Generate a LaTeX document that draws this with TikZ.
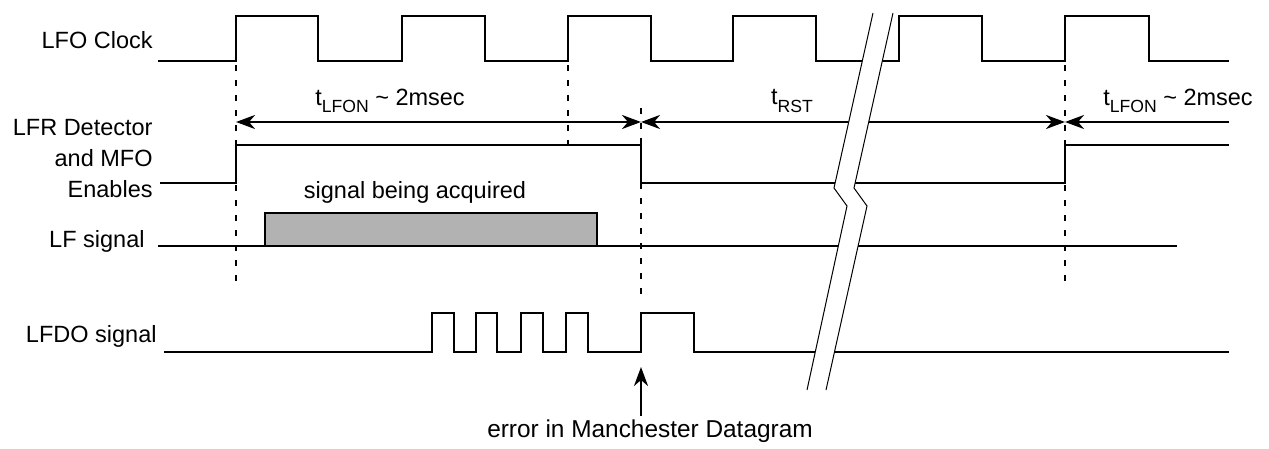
\documentclass[tikz,border=0pt]{standalone}
\usepackage{fontspec}
\setmainfont{Liberation Sans}
\usetikzlibrary{arrows.meta}
\begin{document}
\begin{tikzpicture}[x=0.5pt,y=-0.5pt,
  sig/.style={line width=1.4pt, line join=miter},
  guide/.style={line width=1.1pt, dash pattern=on 3pt off 4.5pt},
  dimline/.style={line width=1.2pt},
  hd/.tip={Stealth[length=9.5pt,width=7pt,inset=3pt]},
  brk/.style={line width=0.5pt},
  lbl/.style={font=\fontsize{11.75}{15.5}\selectfont, inner sep=0pt}
]
\useasboundingbox (0,0) rectangle (1269,449);
\newcommand{\subtxt}[1]{\raisebox{-0.6ex}{\fontsize{8.8}{10}\selectfont #1}}

% labels
\node[lbl, anchor=east] (lfo) at (153,40) {LFO Clock};
\node[lbl, anchor=east, align=right] (lfr) at (153,159) {LFR Detector\\and MFO\\Enables};
\node[lbl, anchor=east] (lfs) at (145,241) {LF signal};
\node[lbl, anchor=east] (lfdo) at (157,336) {LFDO signal};

% LFO clock
\draw[sig] (158,61) -- (236,61) -- (236,16) -- (318,16) -- (318,61) -- (402,61) -- (402,16) -- (485,16) -- (485,61) -- (568,61) -- (568,16) -- (651,16) -- (651,61) -- (733,61) -- (733,16) -- (816,16) -- (816,61) -- (899,61) -- (899,16) -- (982,16) -- (982,61) -- (1065,61) -- (1065,16) -- (1149,16) -- (1149,61) -- (1229,61);

% LFR / MFO enables
\draw[sig] (160,183) -- (236,183) -- (236,145) -- (641,145) -- (641,183) -- (1065,183) -- (1065,145) -- (1229,145);

% LF signal
\draw[sig] (158,246) -- (1177,246);
\draw[sig, fill=black!30] (265,213) rectangle (597,246);
\node[lbl] (acq) at (415,192) {signal being acquired};

% LFDO signal
\draw[sig] (164,352) -- (432,352) -- (432,313) -- (454,313) -- (454,352) -- (476,352) -- (476,313) -- (497,313) -- (497,352) -- (521,352) -- (521,313) -- (543,313) -- (543,352) -- (566,352) -- (566,313) -- (588,313) -- (588,352) -- (641,352) -- (641,313) -- (694,313) -- (694,352) -- (1229,352);

% guides
\draw[guide] (236,65) -- (236,290);
\draw[guide] (568,65) -- (568,148);
\draw[guide] (641,108) -- (641,303);
\draw[guide] (1065,65) -- (1065,290);

% timing arrows
\coordinate (a1) at (236,122);
\coordinate (a2) at (641,122);
\coordinate (a3) at (1065,122);
\coordinate (a4) at (1229,122);
\draw[dimline, {hd}-{hd}] (a1) -- (a2);
\draw[dimline, {hd}-{hd}] (a2) -- (a3);
\draw[dimline, -{hd}] (a4) -- (a3);
\node[lbl] (t1) at (390,101) {t\subtxt{LFON} \textasciitilde{} 2msec};
\node[lbl] (t2) at (792,101) {t\subtxt{RST}};
\node[lbl] (t3) at (1178,101) {t\subtxt{LFON} \textasciitilde{} 2msec};

% error arrow
\node[lbl, font=\fontsize{12.2}{15}\selectfont] (err) at (650,431) {error in Manchester Datagram};
\coordinate (errtip) at (641,367);
\draw[dimline, -{hd}] (err.north -| errtip) ++(0,-3) -- (errtip);

% break
\fill[white] (873,13) -- (834,188) -- (847,206) -- (807,390) -- (826,390) -- (867,206) -- (854,188) -- (893,13) -- cycle;
\draw[brk] (873,13) -- (834,188) -- (847,206) -- (807,390);
\draw[brk] (893,13) -- (854,188) -- (867,206) -- (826,390);
\end{tikzpicture}
\end{document}
